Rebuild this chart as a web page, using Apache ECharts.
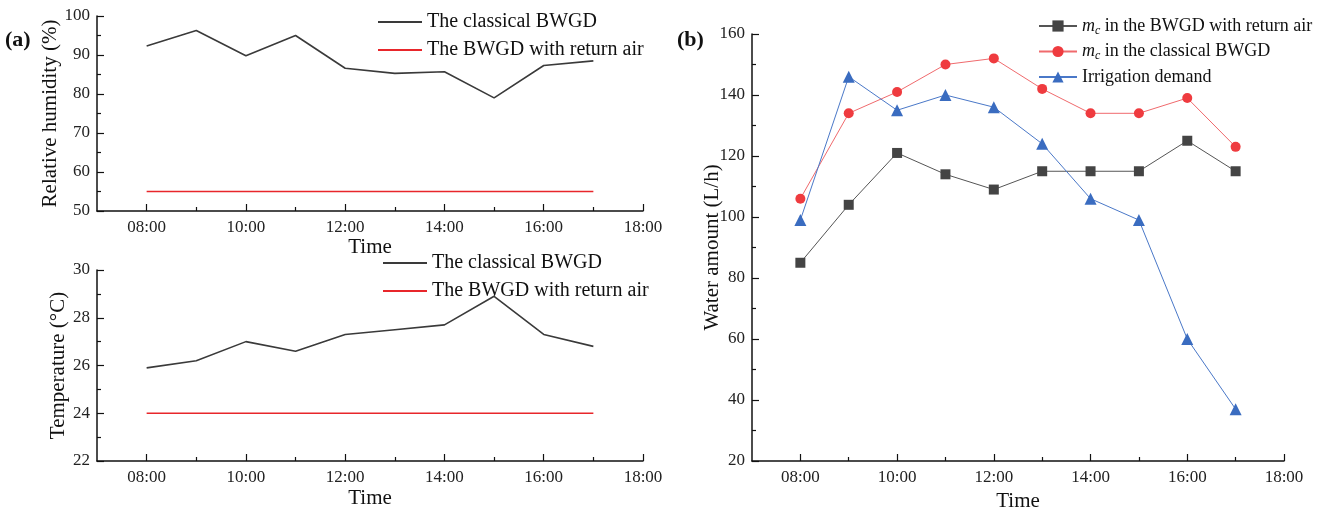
<!DOCTYPE html>
<html><head><meta charset="utf-8">
<script src="https://cdn.jsdelivr.net/npm/echarts@6/dist/echarts.min.js"></script>
<style>html,body{margin:0;padding:0;background:#fff}#c{width:1325px;height:509px}</style>
</head><body><div id="c"></div>
<script>
const hours = [8, 9, 10, 11, 12, 13, 14, 15, 16, 17];
const majorTicks = [8, 10, 12, 14, 16, 18];
const minorTicksX = [9, 11, 13, 15, 17];
const rhClassical = [92.3, 96.3, 89.8, 95.0, 86.6, 85.3, 85.7, 79.0, 87.3, 88.5];
const rhReturn = [55, 55, 55, 55, 55, 55, 55, 55, 55, 55];
const tClassical = [25.9, 26.2, 27.0, 26.6, 27.3, 27.5, 27.7, 28.9, 27.3, 26.8];
const tReturn = [24, 24, 24, 24, 24, 24, 24, 24, 24, 24];
const mcReturn = [85, 104, 121, 114, 109, 115, 115, 115, 125, 115];
const mcClassical = [106, 134, 141, 150, 152, 142, 134, 134, 139, 123];
const irrigation = [99, 146, 135, 140, 136, 124, 106, 99, 60, 37];

const FONT = '"Liberation Serif", "Times New Roman", serif';
const fmtHour = v => (v < 10 ? '0' : '') + v + ':00';
const pair = (xs, ys) => xs.map((x, i) => [x, ys[i]]);

function xAxes(g, gap) {
  return [{
    type: 'value', gridIndex: g, min: 7, max: 18, interval: 1,
    name: 'Time', nameLocation: 'middle', nameGap: gap,
    nameTextStyle: { fontFamily: FONT, fontSize: 21, color: '#111' },
    axisLine: { lineStyle: { color: '#111', width: 1.5 } },
    axisTick: { inside: true, length: 7, customValues: majorTicks, lineStyle: { color: '#111', width: 1.2 } },
    axisLabel: { customValues: majorTicks, formatter: fmtHour, fontFamily: FONT, fontSize: 17, color: '#222', margin: 8 },
    splitLine: { show: false }
  }, {
    type: 'value', gridIndex: g, min: 7, max: 18, interval: 1, position: 'bottom',
    axisLine: { show: false },
    axisTick: { inside: true, length: 4, customValues: minorTicksX, lineStyle: { color: '#111', width: 1.2 } },
    axisLabel: { show: false }, splitLine: { show: false }
  }];
}
function yAxis(g, min, max, interval, name, gap, noMove) {
  const ax = {
    type: 'value', gridIndex: g, min, max, interval,
    name, nameLocation: 'middle', nameGap: gap,
    nameTextStyle: { fontFamily: FONT, fontSize: 21, color: '#111' },
    axisLine: { show: true, lineStyle: { color: '#111', width: 1.5 } },
    axisTick: { show: true, inside: true, length: 7, lineStyle: { color: '#111', width: 1.2 } },
    minorTick: { show: true, splitNumber: 2, length: 4, lineStyle: { color: '#111', width: 1.2 } },
    axisLabel: { fontFamily: FONT, fontSize: 17, color: '#222', margin: 7 },
    splitLine: { show: false }
  };
  if (noMove) ax.nameMoveOverlap = false;
  return ax;
}
const BLACK = '#3a3a3a', RED = '#e8262b', RED2 = '#ef3b3f', BLUE = '#3a6cc0';
const legendText = { fontFamily: FONT, fontSize: 20, color: '#111' };
const rich = { it: { fontFamily: FONT, fontStyle: 'italic', fontSize: 18, color: '#111' },
  sub: { fontFamily: FONT, fontStyle: 'italic', fontSize: 12, color: '#111', padding: [9, 0, 0, 0] },
  t: { fontFamily: FONT, fontSize: 18, color: '#111' } };

const option = {
  animation: false,
  backgroundColor: '#fff',
  grid: [
    { left: 97, top: 16, width: 546, height: 195, outerBoundsMode: 'none', containLabel: false },
    { left: 97, top: 270, width: 546, height: 191, outerBoundsMode: 'none', containLabel: false },
    { left: 752, top: 34, width: 532, height: 427, outerBoundsMode: 'none', containLabel: false }
  ],
  xAxis: [...xAxes(0, 24), ...xAxes(1, 27), ...xAxes(2, 27)],
  yAxis: [
    yAxis(0, 50, 100, 10, 'Relative humidity (%)', 27),
    yAxis(1, 22, 30, 2, 'Temperature (°C)', 27),
    yAxis(2, 20, 160, 20, 'Water amount (L/h)', 29, true)
  ],
  graphic: [
    { type: 'text', left: 5, top: 29, style: { text: '(a)', font: 'bold 22px ' + FONT, fill: '#111' } },
    { type: 'text', left: 677, top: 29, style: { text: '(b)', font: 'bold 22px ' + FONT, fill: '#111' } }
  ],
  legend: [
    { data: ['The classical BWGD', 'The BWGD with return air'], orient: 'vertical', left: 373, top: 7,
      icon: 'rect', itemWidth: 44, itemHeight: 2, itemGap: 8, textStyle: legendText },
    { data: ['The classical BWGD', 'The BWGD with return air'], orient: 'vertical', left: 378, top: 248,
      icon: 'rect', itemWidth: 44, itemHeight: 2, itemGap: 8, textStyle: legendText },
    { data: ['mcR', 'mcC', 'Irrigation demand'], orient: 'vertical', left: 1033, top: 12,
      itemWidth: 38, itemHeight: 14, itemGap: 6, textStyle: { fontFamily: FONT, fontSize: 18, color: '#111', rich },
      formatter: n => n === 'mcR' ? '{it|m}{sub|c}{t| in the BWGD with return air}'
        : n === 'mcC' ? '{it|m}{sub|c}{t| in the classical BWGD}' : '{t|Irrigation demand}' }
  ],
  series: [
    { name: 'The classical BWGD', type: 'line', xAxisIndex: 0, yAxisIndex: 0, data: pair(hours, rhClassical),
      symbol: 'none', lineStyle: { color: BLACK, width: 1.6 }, itemStyle: { color: BLACK } },
    { name: 'The BWGD with return air', type: 'line', xAxisIndex: 0, yAxisIndex: 0, data: pair(hours, rhReturn),
      symbol: 'none', lineStyle: { color: RED, width: 1.6 }, itemStyle: { color: RED } },
    { name: 'The classical BWGD', type: 'line', xAxisIndex: 2, yAxisIndex: 1, data: pair(hours, tClassical),
      symbol: 'none', lineStyle: { color: BLACK, width: 1.6 }, itemStyle: { color: BLACK } },
    { name: 'The BWGD with return air', type: 'line', xAxisIndex: 2, yAxisIndex: 1, data: pair(hours, tReturn),
      symbol: 'none', lineStyle: { color: RED, width: 1.6 }, itemStyle: { color: RED } },
    { name: 'mcR', type: 'line', xAxisIndex: 4, yAxisIndex: 2, data: pair(hours, mcReturn),
      symbol: 'rect', symbolSize: 10, lineStyle: { color: '#555', width: 1 }, itemStyle: { color: '#444' } },
    { name: 'mcC', type: 'line', xAxisIndex: 4, yAxisIndex: 2, data: pair(hours, mcClassical),
      symbol: 'circle', symbolSize: 10, lineStyle: { color: '#f06a6d', width: 1 }, itemStyle: { color: RED2 } },
    { name: 'Irrigation demand', type: 'line', xAxisIndex: 4, yAxisIndex: 2, data: pair(hours, irrigation),
      symbol: 'triangle', symbolSize: 12, lineStyle: { color: '#4a78c8', width: 1 }, itemStyle: { color: BLUE } }
  ]
};
const chart = echarts.init(document.getElementById('c'), null, { renderer: 'canvas' });
chart.setOption(option);
</script></body></html>
